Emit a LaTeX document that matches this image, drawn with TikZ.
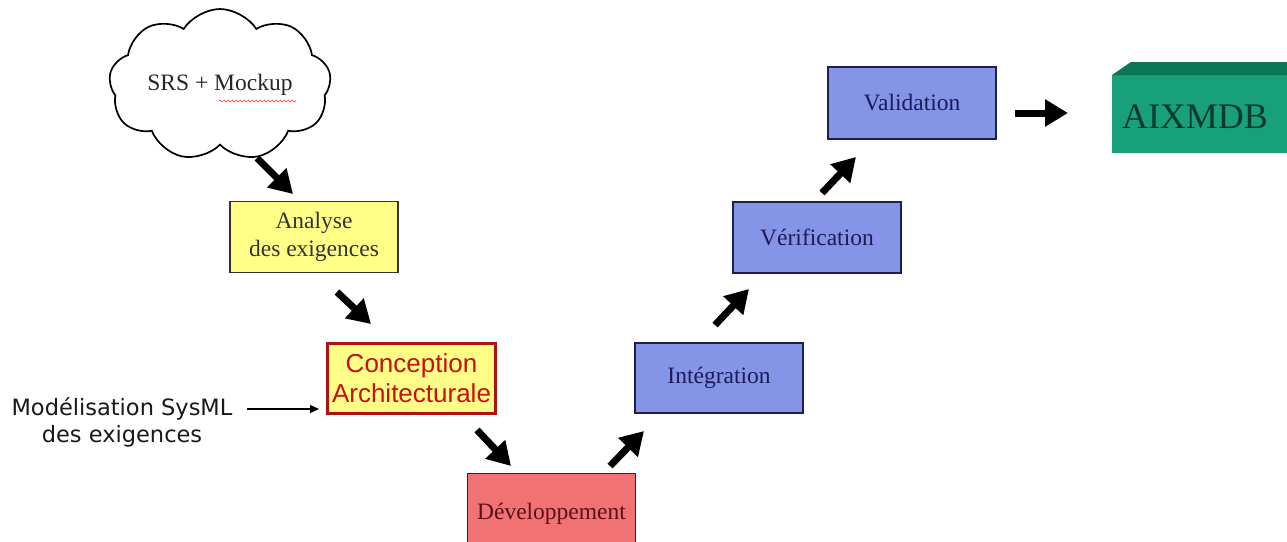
\documentclass[tikz,border=0pt]{standalone}
\usepackage{fontspec}
\setmainfont{Liberation Serif}
\newfontfamily\sansA{DejaVu Sans}
\newfontfamily\sansB{Liberation Sans}
\usetikzlibrary{shapes.symbols,arrows.meta,decorations.pathmorphing}
\definecolor{yelF}{HTML}{FFFF88}
\definecolor{blueF}{HTML}{8494E6}
\definecolor{blueD}{HTML}{1E2050}
\definecolor{blueT}{HTML}{1C1C5C}
\definecolor{devF}{HTML}{F07272}
\definecolor{devT}{HTML}{5A1212}
\definecolor{conD}{HTML}{B01010}
\definecolor{conT}{HTML}{C81010}
\definecolor{aixF}{HTML}{17A07A}
\definecolor{aixTop}{HTML}{0C7656}
\definecolor{aixT}{HTML}{0A3A2A}
\begin{document}
\begin{tikzpicture}[x=1pt,y=-1pt,
  stagebox/.style={draw, line width=1.2pt, minimum width=168pt, minimum height=71pt,
    inner sep=0pt, align=center, font=\fontsize{23.5}{28}\selectfont},
  bluebox/.style={stagebox, fill=blueF, draw=blueD, text=blueT},
  bigarrow/.style={line width=7pt, -{Triangle[length=23pt,width=26pt]}},
  thinarrow/.style={line width=1.3pt, -{Triangle[length=9pt,width=8pt]}}]
\useasboundingbox (0,0) rectangle (1287,541);
\fill[white] (0,0) rectangle (1287,541);

% cloud
\node[cloud, draw, line width=1.7pt, cloud puffs=9, cloud puff arc=115,
  minimum width=222pt, minimum height=128pt, aspect=1.7, inner sep=0pt,
  font=\fontsize{23.5}{26}\selectfont, text=black!85] (srs) at (220,85) {SRS + Mockup};
\draw[red!80, line width=0.6pt, decorate, decoration={snake, amplitude=1pt, segment length=4pt}]
  (219,101) -- (296,101);

% boxes
\node[stagebox, fill=yelF, draw=black!80, text=black!80] (ana) at (314,237) {\raisebox{-2pt}{Analyse}\\\raisebox{-2pt}{des exigences}};
\node[stagebox, fill=yelF, draw=conD, line width=3pt, text=conT, minimum height=70pt,
  font=\sansB\fontsize{26}{30}\selectfont] (con) at (411.5,378) {Conception\\Architecturale};
\node[stagebox, fill=devF, draw=devT, text=devT, minimum height=70pt, anchor=north] (dev) at (551.5,473) {\raisebox{-26pt}{Développement}};
\node[bluebox, minimum height=70pt] (int) at (719,378) {Intégration};
\node[bluebox] (ver) at (817,237.5) {Vérification};
\node[bluebox, minimum height=72pt] (val) at (912,103) {Validation};

% AIXMDB block
\fill[aixF] (1112,75) rectangle (1292,153);
\fill[aixTop] (1112,75) -- (1131,62) -- (1292,62) -- (1292,75) -- cycle;
\node[font=\fontsize{36}{40}\selectfont, text=aixT] (aix) at (1195,117) {AIXMDB};

% side text
\node[font=\sansA\fontsize{22.5}{27}\selectfont, align=center, text=black!90] (sysml) at (122,422)
  {Modélisation SysML\\des exigences};

% connectors
\coordinate (c1a) at (257,158); \coordinate (c1b) at (293,194);
\coordinate (c2a) at (337,292); \coordinate (c2b) at (371,324);
\coordinate (c3a) at (477,430); \coordinate (c3b) at (511,466);
\coordinate (c4a) at (610,466); \coordinate (c4b) at (644,431);
\coordinate (c5a) at (715,325); \coordinate (c5b) at (749,289);
\coordinate (c6a) at (822,193); \coordinate (c6b) at (856,157);
\coordinate (c7a) at (1015,113); \coordinate (c7b) at (1068,113);
\draw[bigarrow] (c1a) -- (c1b);
\draw[bigarrow] (c2a) -- (c2b);
\draw[bigarrow] (c3a) -- (c3b);
\draw[bigarrow] (c4a) -- (c4b);
\draw[bigarrow] (c5a) -- (c5b);
\draw[bigarrow] (c6a) -- (c6b);
\draw[bigarrow] (c7a) -- (c7b);
\coordinate (t1) at (247,409);
\draw[thinarrow] (t1) -- ([xshift=-7pt]con.west |- t1);
\end{tikzpicture}
\end{document}
